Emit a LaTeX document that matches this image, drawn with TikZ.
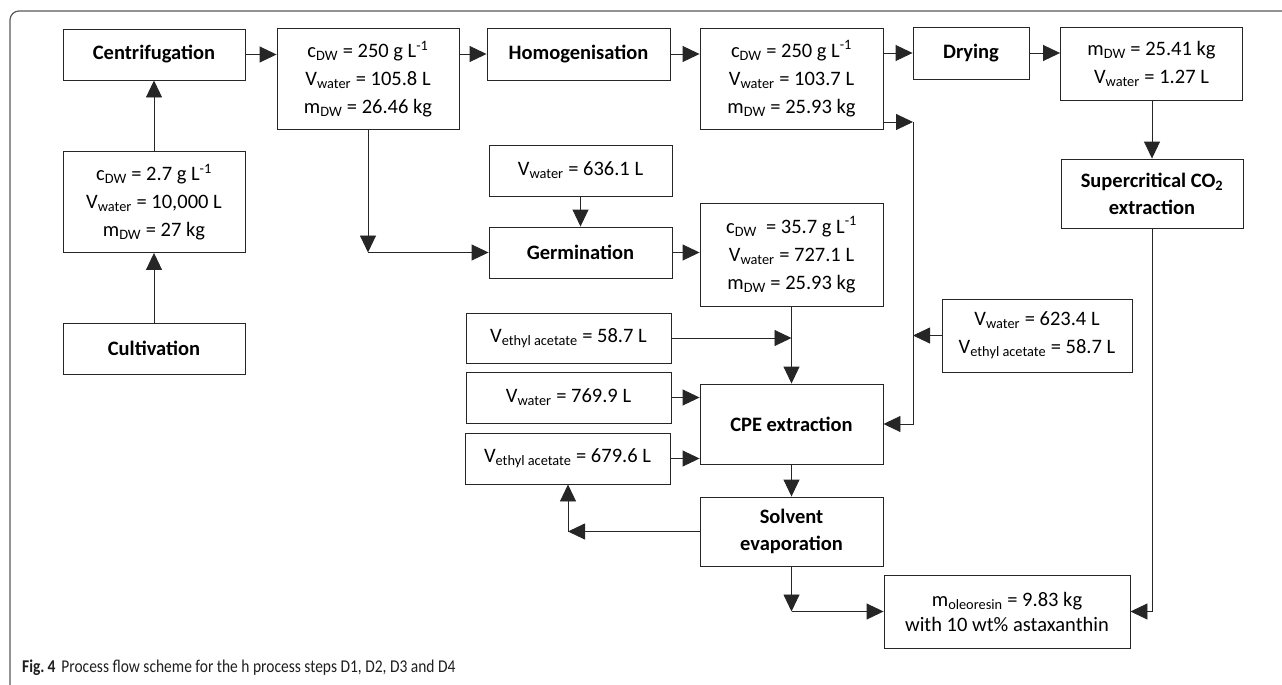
\documentclass[tikz,border=0pt]{standalone}
\usepackage{fontspec}
\setmainfont{Carlito}
\newfontfamily\capfont[FakeStretch=0.86]{Carlito}
\usetikzlibrary{arrows.meta}
\tikzset{
  box/.style={draw=black!85, line width=0.9pt, inner sep=0pt, align=center,
    font=\fontsize{20.5}{28}\selectfont},
  bbox/.style={box, font=\fontsize{20.5}{27}\selectfont\bfseries},
  arr/.style={line width=0.9pt, draw=black!85, -{Triangle[length=17pt,width=16pt]}},
}
\newcommand{\sbs}[1]{\textsubscript{#1}}
\newcommand{\sps}[1]{\textsuperscript{#1}}
\begin{document}
\begin{tikzpicture}[x=1pt,y=-1pt]
\useasboundingbox (0,0) rectangle (1282,685);
\clip (0,0) rectangle (1282,685);
\draw[black!65, line width=1.2pt, rounded corners=9pt] (10,700) -- (10,11) -- (1300,11);

\node[bbox, minimum width=182pt, minimum height=51pt] (cen) at (154,54.5) {Centrifugation};
\node[box, minimum width=182pt, minimum height=101pt] (A) at (368,79) {c\sbs{DW} = 250 g L\sps{-1}\\V\sbs{water} = 105.8 L\\m\sbs{DW} = 26.46 kg};
\node[bbox, minimum width=183pt, minimum height=52pt] (hom) at (578.5,54) {Homogenisation};
\node[box, minimum width=183pt, minimum height=101pt] (B) at (791.5,78.5) {c\sbs{DW} = 250 g L\sps{-1}\\V\sbs{water} = 103.7 L\\m\sbs{DW} = 25.93 kg};
\node[bbox, minimum width=116pt, minimum height=52pt] (dry) at (971,53) {Drying};
\node[box, minimum width=182pt, minimum height=73pt] (C) at (1151.5,63.5) {m\sbs{DW} = 25.41 kg\\V\sbs{water} = 1.27 L};
\node[bbox, minimum width=182pt, minimum height=69pt] (sc) at (1152,193.5) {Supercritical CO\sbs{2}\\extraction};
\node[box, minimum width=182pt, minimum height=101pt] (D) at (154,202) {c\sbs{DW} = 2.7 g L\sps{-1}\\V\sbs{water} = 10,000 L\\m\sbs{DW} = 27 kg};
\node[bbox, minimum width=182pt, minimum height=51pt] (cul) at (154,348.5) {Cultivation};
\node[box, minimum width=183pt, minimum height=51pt] (w636) at (580.5,170.5) {V\sbs{water} = 636.1 L};
\node[bbox, minimum width=183pt, minimum height=51pt] (ger) at (580.5,252.5) {Germination};
\node[box, minimum width=183pt, minimum height=103pt] (E) at (791.5,254.5) {c\sbs{DW}~ = 35.7 g L\sps{-1}\\V\sbs{water} = 727.1 L\\m\sbs{DW} = 25.93 kg};
\node[box, minimum width=205pt, minimum height=50pt] (ea58) at (568.5,338) {V\sbs{ethyl acetate} = 58.7 L};
\node[box, minimum width=205pt, minimum height=51pt] (w769) at (568.5,397.5) {V\sbs{water} = 769.9 L};
\node[box, minimum width=205pt, minimum height=51pt] (ea679) at (567.5,458.5) {V\sbs{ethyl acetate} = 679.6 L};
\node[bbox, minimum width=183pt, minimum height=80pt] (cpe) at (791.5,424) {CPE extraction};
\node[bbox, minimum width=183pt, minimum height=69pt] (sol) at (791.5,531.5) {Solvent\\evaporation};
\node[box, minimum width=190pt, minimum height=73pt] (F) at (1037,335.5) {V\sbs{water} = 623.4 L\\V\sbs{ethyl acetate} = 58.7 L};
\node[box, minimum width=246pt, minimum height=73pt, font=\fontsize{20.5}{25}\selectfont] (ole) at (1007,611.5) {m\sbs{oleoresin} = 9.83 kg\\with 10 wt\% astaxanthin};

\node[anchor=base west, inner sep=0pt, font=\capfont\fontsize{18}{20}\selectfont, text=black!88] (cap) at (22,672) {\textbf{Fig.\,4}\hspace{6pt}Process flow scheme for the h process steps D1, D2, D3 and D4};

\coordinate (j1) at (368,252.5);
\coordinate (j2s) at (883,122);
\coordinate (j2) at (913,122);
\coordinate (j3) at (568,531.5);
\coordinate (j4) at (791.5,611.5);

\draw[arr] (cul) -- (D);
\draw[arr] (D) -- (cen);
\draw[arr] (cen) -- (A.west |- cen);
\draw[arr] (A.east |- hom) -- (hom);
\draw[arr] (hom) -- (B.west |- hom);
\draw[arr] (B.east |- dry) -- (dry);
\draw[arr] (dry) -- (C.west |- dry);
\draw[arr] (C.south -| sc) -- (sc);
\draw[arr] (sc) |- (ole);
\draw[arr] (A) -- (j1);
\draw[arr] (j1) -- (ger);
\draw[arr] (w636) -- (ger);
\draw[arr] (ger) -- (E.west |- ger);
\draw[arr] (j2s) -- (j2);
\draw[arr] (j2) |- (cpe);
\draw[arr] (F) -- (F.west -| j2);
\draw[arr] (E) -- (cpe);
\draw[arr] (ea58) -- (ea58 -| E);
\draw[arr] (w769) -- (w769 -| cpe.west);
\draw[arr] (ea679) -- (ea679 -| cpe.west);
\draw[arr] (cpe) -- (sol);
\draw[arr] (sol) -- (j3);
\draw[arr] (j3) -- (j3 |- ea679.south);
\draw[arr] (sol) -- (j4);
\draw[arr] (j4) -- (ole);
\end{tikzpicture}
\end{document}
